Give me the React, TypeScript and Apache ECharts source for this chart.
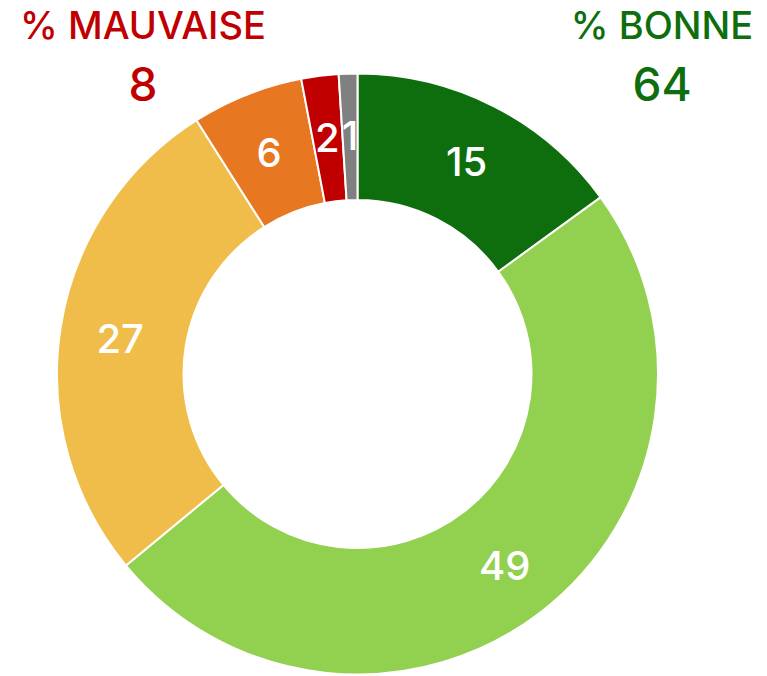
import React, { useEffect, useRef } from "react";
import * as echarts from "echarts";

const categories = ["Très bonne", "Bonne", "Moyenne", "Médiocre", "Mauvaise", "Sans avis"];
const values = [15, 49, 27, 6, 2, 1];
const colors = ["#0E6E0E", "#92D050", "#F0BD4A", "#E87722", "#C00000", "#808080"];
const summaryLabels = ["% MAUVAISE", "% BONNE"];
const summaryValues = [8, 64];
const summaryColors = ["#C00000", "#0E6E0E"];

export default function App() {
  const ref = useRef<HTMLDivElement>(null);
  useEffect(() => {
    document.body.style.margin = "0";
    const chart = echarts.init(ref.current!, null, { renderer: "svg" });
    const font = "Inter, 'Liberation Sans', Arial, sans-serif";
    chart.setOption({
      animation: false,
      graphic: [
        { type: "text", x: 143, y: 25, style: { text: summaryLabels[0], fill: summaryColors[0], font: `500 38px ${font}`, textAlign: "center", textVerticalAlign: "middle" } },
        { type: "text", x: 143, y: 84, style: { text: String(summaryValues[0]), fill: summaryColors[0], font: `500 46px ${font}`, textAlign: "center", textVerticalAlign: "middle" } },
        { type: "text", x: 662, y: 25, style: { text: summaryLabels[1], fill: summaryColors[1], font: `500 38px ${font}`, textAlign: "center", textVerticalAlign: "middle" } },
        { type: "text", x: 662, y: 84, style: { text: String(summaryValues[1]), fill: summaryColors[1], font: `500 46px ${font}`, textAlign: "center", textVerticalAlign: "middle" } },
      ],
      series: [
        {
          type: "pie",
          center: [357.5, 374],
          radius: [174, 300.5],
          startAngle: 90,
          clockwise: true,
          avoidLabelOverlap: false,
          itemStyle: { borderColor: "#ffffff", borderWidth: 2 },
          label: {
            show: true,
            position: "inside",
            color: "#ffffff",
            fontSize: 40,
            fontWeight: 500,
            fontFamily: font,
            offset: [0, 2],
            formatter: "{c}",
          },
          labelLine: { show: false },
          emphasis: { disabled: true },
          data: categories.map((name, i) => ({ name, value: values[i], itemStyle: { color: colors[i] } })),
        },
      ],
    });
    return () => chart.dispose();
  }, []);
  return <div ref={ref} style={{ position: "absolute", left: 0, top: 0, width: 767, height: 676 }} />;
}
